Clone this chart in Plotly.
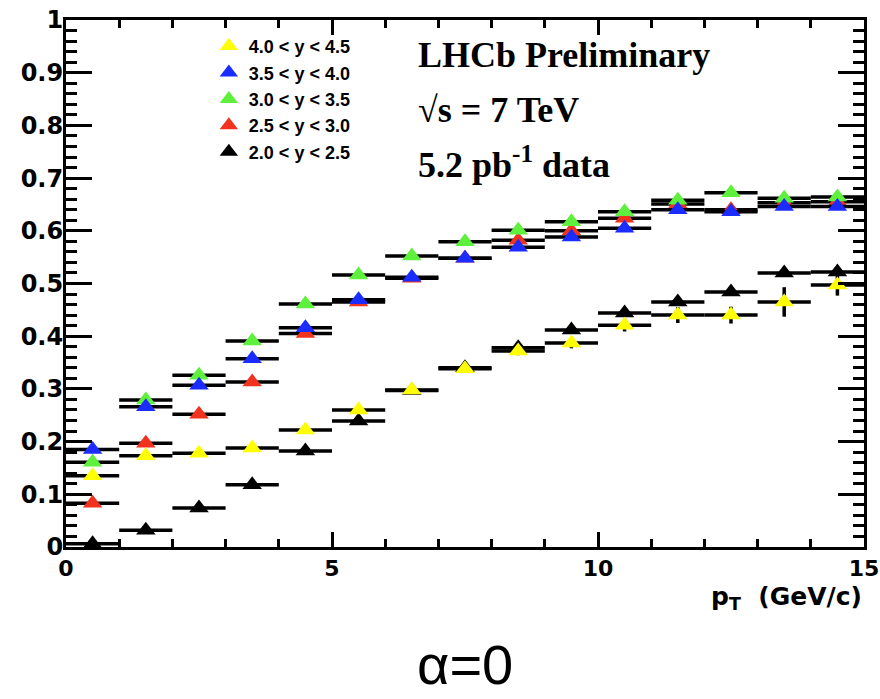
import plotly.graph_objects as go

pt_centers = [0.5, 1.5, 2.5, 3.5, 4.5, 5.5, 6.5, 7.5, 8.5, 9.5, 10.5, 11.5, 12.5, 13.5, 14.5]
pt_halfwidth = [0.5] * 15

series_names = ["2.0 < y < 2.5", "2.5 < y < 3.0", "3.0 < y < 3.5", "3.5 < y < 4.0", "4.0 < y < 4.5"]
series_colors = ["#000000", "#f0321e", "#5ef03c", "#1a2cff", "#ffff00"]
legend_ranks = [5, 4, 3, 2, 1]

y_20_25 = [0.006, 0.032, 0.074, 0.118, 0.182, 0.239, 0.297, 0.340, 0.378, 0.412, 0.444, 0.465, 0.484, 0.520, 0.522]
y_25_30 = [0.083, 0.197, 0.252, 0.313, 0.405, 0.465, 0.510, 0.548, 0.582, 0.600, 0.624, 0.651, 0.640, 0.653, 0.655]
y_30_35 = [0.161, 0.279, 0.326, 0.391, 0.461, 0.516, 0.552, 0.579, 0.601, 0.617, 0.636, 0.658, 0.672, 0.662, 0.664]
y_35_40 = [0.185, 0.266, 0.307, 0.357, 0.416, 0.469, 0.512, 0.548, 0.569, 0.588, 0.605, 0.640, 0.636, 0.646, 0.646]
y_40_45 = [0.135, 0.173, 0.178, 0.188, 0.222, 0.260, 0.298, 0.338, 0.372, 0.387, 0.421, 0.440, 0.440, 0.465, 0.497]

err_20_25 = [0, 0, 0, 0, 0, 0, 0, 0, 0, 0, 0, 0, 0, 0, 0]
err_25_30 = [0, 0, 0, 0, 0, 0, 0, 0, 0, 0, 0, 0, 0, 0, 0]
err_30_35 = [0, 0, 0, 0, 0, 0, 0, 0, 0, 0, 0, 0, 0, 0, 0]
err_35_40 = [0, 0, 0, 0, 0, 0, 0, 0, 0, 0, 0, 0, 0, 0, 0]
err_40_45 = [0, 0, 0, 0, 0, 0, 0, 0, 0.008, 0.01, 0.012, 0.015, 0.016, 0.028, 0.02]

all_y = [y_20_25, y_25_30, y_30_35, y_35_40, y_40_45]
all_err = [err_20_25, err_25_30, err_30_35, err_35_40, err_40_45]

fig = go.Figure()
for name, col, ys, es, rk in zip(series_names, series_colors, all_y, all_err, legend_ranks):
    fig.add_trace(go.Scatter(
        x=pt_centers, y=ys, mode="markers", name=name, legendrank=rk,
        marker=dict(symbol="triangle-up", size=17, color=col, line=dict(width=0)),
        error_x=dict(type="data", array=pt_halfwidth, color="black", thickness=3.5, width=0),
        error_y=dict(type="data", array=es, color="black", thickness=3.5, width=0),
    ))

fig.update_xaxes(
    range=[0, 15], tickvals=[0, 5, 10, 15], ticktext=["0", "5", "10", "15"],
    ticks="inside", ticklen=15, tickwidth=3, tickcolor="black",
    showline=True, linewidth=3, linecolor="black", mirror="allticks",
    showgrid=False, zeroline=False, ticklabelstandoff=0, automargin=False,
    tickfont=dict(family="DejaVu Sans", size=22, color="black", weight="bold"),
    minor=dict(dtick=1, tick0=0, ticks="inside", ticklen=8, tickwidth=2.5, tickcolor="black", showgrid=False),
)
fig.update_yaxes(
    range=[0, 1], dtick=0.1, tick0=0, tickformat=".1~f",
    ticks="inside", ticklen=26, tickwidth=3, tickcolor="black",
    showline=True, linewidth=3, linecolor="black", mirror="allticks",
    showgrid=False, zeroline=False, ticklabelstandoff=-5, automargin=False,
    tickfont=dict(family="DejaVu Sans", size=24, color="black", weight="bold"),
    minor=dict(dtick=0.02, tick0=0, ticks="inside", ticklen=11, tickwidth=2.5, tickcolor="black", showgrid=False),
)

serif = dict(family="Liberation Serif", size=36, color="black", weight="bold")
fig.add_annotation(x=0.4386, y=0.933, xref="paper", yref="paper", xanchor="left", yanchor="middle",
                   text="LHCb Preliminary", showarrow=False, font=serif)
fig.add_annotation(x=0.4386, y=0.830, xref="paper", yref="paper", xanchor="left", yanchor="middle",
                   text="√s = 7 TeV", showarrow=False, font=serif)
fig.add_annotation(x=0.4386, y=0.729, xref="paper", yref="paper", xanchor="left", yanchor="middle",
                   text="5.2 pb<sup>-1</sup> data", showarrow=False, font=serif)

fig.add_annotation(x=1.0, y=-0.096, xref="paper", yref="paper", xanchor="right", yanchor="middle",
                   text="p<sub>T</sub>  (GeV/c)", showarrow=False,
                   font=dict(family="DejaVu Sans", size=25, color="black", weight="bold"))
fig.add_annotation(x=0.5, y=-0.2865, xref="paper", yref="paper", xanchor="center", yanchor="bottom",
                   text="α=0", showarrow=False,
                   font=dict(family="Liberation Sans", size=56, color="black"))

fig.update_layout(
    width=880, height=699,
    margin=dict(l=66, r=16, t=20, b=152, autoexpand=False),
    paper_bgcolor="white", plot_bgcolor="white",
    showlegend=True,
    legend=dict(x=0.179, y=0.985, xanchor="left", yanchor="top",
                traceorder="normal",
                bgcolor="rgba(0,0,0,0)", borderwidth=0,
                font=dict(family="Liberation Sans", size=18, color="black", weight="bold"),
                itemwidth=30),
)

fig.write_html("out.html", config={"displayModeBar": False},
               post_script="document.body.style.margin='0';document.body.style.overflow='hidden';")
